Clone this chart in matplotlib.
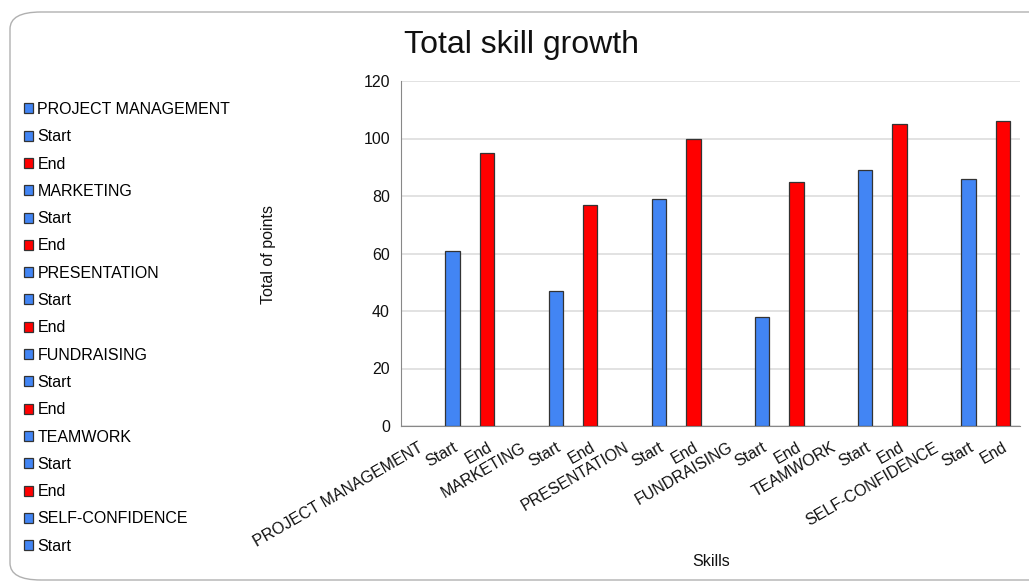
import numpy as np
import matplotlib
matplotlib.use("Agg")
import matplotlib.pyplot as plt
from matplotlib.patches import Patch, FancyBboxPatch

plt.rcParams['font.family'] = ['Liberation Sans', 'DejaVu Sans']

skills = ["PROJECT MANAGEMENT", "MARKETING", "PRESENTATION", "FUNDRAISING",
          "TEAMWORK", "SELF-CONFIDENCE"]
start_vals = [61, 47, 79, 38, 89, 86]
end_vals = [95, 77, 100, 85, 105, 106]

BLUE = "#4285F4"
RED = "#FF0000"

categories = []
values = []
colors = []
for s, a, b in zip(skills, start_vals, end_vals):
    categories += [s, "Start", "End"]
    values += [np.nan, a, b]
    colors += [BLUE, BLUE, RED]

FS = 11.5
fig = plt.figure(figsize=(10.29, 5.85), dpi=100)

# rounded border
border = FancyBboxPatch((10 / 1029, 5 / 585), 1.05, 568 / 585,
                        boxstyle="round,pad=0,rounding_size=0.03",
                        transform=fig.transFigure, fill=False,
                        edgecolor="#b0b0b0", linewidth=1.0, mutation_aspect=585/1029*1.7)
fig.patches.append(border)

ax = fig.add_axes([401 / 1029, 1 - 426 / 585, 619 / 1029, 345 / 585])
x = np.arange(len(categories))
ax.bar(x, values, width=0.42, color=colors, edgecolor="#333333", linewidth=0.9, zorder=3)
ax.set_xlim(-0.5, len(categories) - 0.5)
ax.set_ylim(0, 120)
ax.set_yticks(np.arange(0, 121, 20))
ax.yaxis.grid(True, color="#dddddd", linewidth=1.2, zorder=0)
ax.set_axisbelow(True)
for sp in ["top", "right"]:
    ax.spines[sp].set_visible(False)
ax.spines["left"].set_color("#888888")
ax.spines["bottom"].set_color("#888888")
ax.tick_params(axis="both", length=0, labelsize=FS, colors="#111111", pad=8)
ax.set_xticks(x)
ax.set_xticklabels(categories, rotation=30, ha="right", rotation_mode="anchor")
ax.tick_params(axis="x", pad=10)

fig.text(522 / 1029, 1 - 45 / 585, "Total skill growth", ha="center", va="center",
         fontsize=23, color="#111111")
fig.text(268 / 1029, 1 - 254 / 585, "Total of points", rotation=90,
         ha="center", va="center", fontsize=FS, color="#111111")
fig.text(711 / 1029, 1 - 562 / 585, "Skills", ha="center", va="center",
         fontsize=FS, color="#111111")

handles = [Patch(facecolor=c, edgecolor="#333333", linewidth=0.9) for c in colors[:-1]]
labels = categories[:-1]
fig.legend(handles, labels, loc="upper left",
           bbox_to_anchor=(24 / 1029, 1 - 102 / 585), frameon=False,
           fontsize=FS, labelspacing=0.77, handlelength=0.58, handleheight=0.58,
           handletextpad=0.25, borderpad=0, borderaxespad=0)

fig.savefig("out.png", dpi=100)
